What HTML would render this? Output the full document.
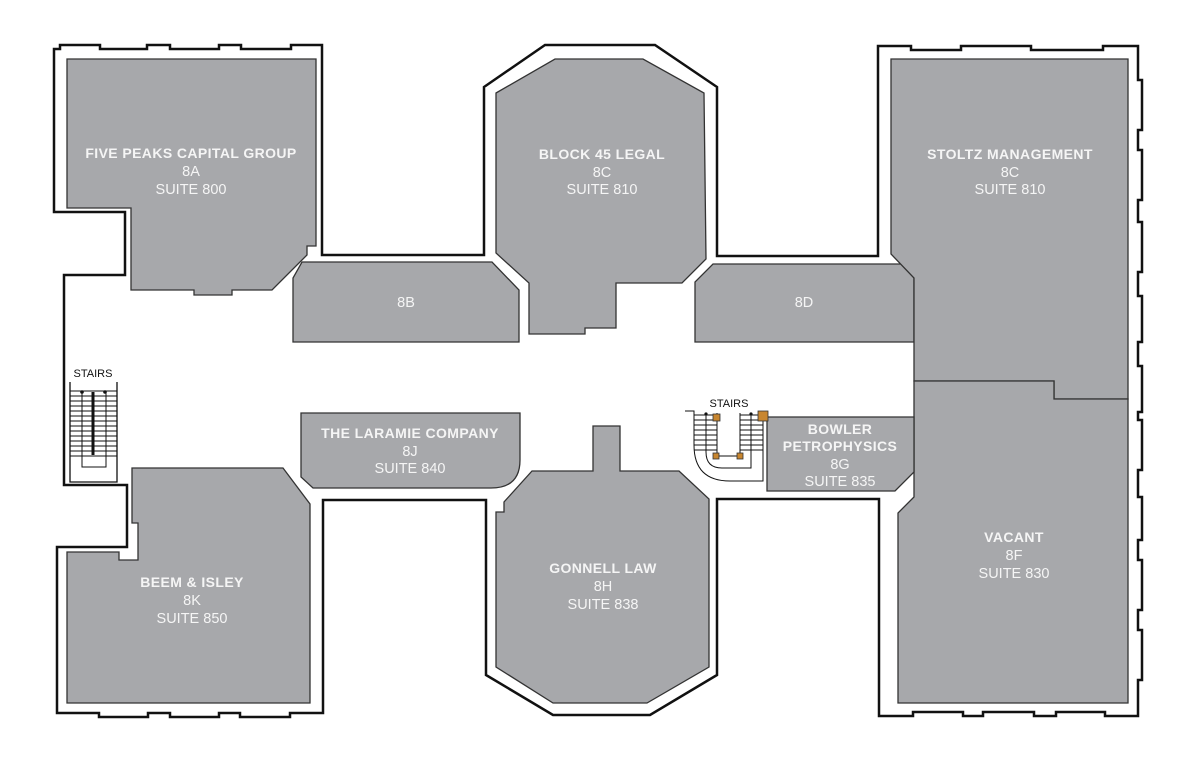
<!DOCTYPE html>
<html><head><meta charset="utf-8"><style>
html,body{margin:0;padding:0;background:#fff;width:1200px;height:762px;overflow:hidden}
svg{display:block}
text{font-family:"Liberation Sans",Arial,sans-serif;fill:#f5f5f5;text-anchor:middle;font-size:14.5px}
.b{font-weight:bold;font-size:14px;letter-spacing:0.4px}
.s{fill:#111;font-size:11px;letter-spacing:0}
</style></head><body>
<svg width="1200" height="762" viewBox="0 0 1200 762">
<path d="M54,49 L60,49 L60,45 L100,45 L100,49 L147,49 L147,45 L170,45 L170,49 L219,49 L219,45 L241,45 L241,49 L291,49 L291,45 L322,45 L322,255 L484,255 L484,87 L545,45 L655,45 L717,87 L717,256 L878,256 L878,46 L911,46 L911,50 L961,50 L961,46 L1031,46 L1031,50 L1103,50 L1103,46 L1138,46 L1138,80 L1142,80 L1142,130 L1138,130 L1138,150 L1142,150 L1142,200 L1138,200 L1138,222 L1142,222 L1142,272 L1138,272 L1138,296 L1142,296 L1142,342 L1138,342 L1138,366 L1142,366 L1142,412 L1138,412 L1138,420 L1142,420 L1142,470 L1138,470 L1138,497 L1142,497 L1142,540 L1138,540 L1138,560 L1142,560 L1142,610 L1138,610 L1138,630 L1142,630 L1142,680 L1138,680 L1138,716 L1105,716 L1105,712 L1056,712 L1056,716 L1034,716 L1034,712 L983,712 L983,716 L963,716 L963,712 L913,712 L913,716 L879,716 L879,499 L717,499 L717,675 L650,715 L553,715 L486,675 L486,500 L323,500 L323,713 L290,713 L290,717 L240,717 L240,713 L219,713 L219,717 L170,717 L170,713 L148,713 L148,717 L99,717 L99,713 L57,713 L57,547 L127,547 L127,485 L64,485 L64,275 L125,275 L125,212 L54,212 Z" fill="none" stroke="#111" stroke-width="2.5" stroke-linejoin="miter"/>
<g fill="#a7a8ab" stroke="#333" stroke-width="1.3">
<path d="M67,59 L316,59 L316,246 L307,246 L307,255 L272,290 L232,290 L232,295 L194,295 L194,290 L131,290 L131,208 L67,208 Z"/>
<path d="M302,262 L492,262 L519,290 L519,342 L293,342 L293,278 Z"/>
<path d="M496,93 L555,59 L643,59 L704,93 L706,259 L682,283 L616,283 L616,328 L585,328 L585,334 L529,334 L529,283 L496,253 Z"/>
<path d="M713,264 L903,264 L914,276 L914,342 L695,342 L695,282 Z"/>
<path d="M891,59 L1128,59 L1128,399 L1054,399 L1054,381 L914,381 L914,278 L891,254 Z"/>
<path d="M914,381 L1054,381 L1054,399 L1128,399 L1128,703 L898,703 L898,513 L914,497 Z"/>
<path d="M767,417 L914,417 L914,472 L895,491 L767,491 Z"/>
<path d="M301,413 L520,413 L520,460 Q520,488 491,488 L313,488 L301,477 Z"/>
<path d="M593,426 L620,426 L620,471 L679,471 L709,499 L709,667 L647,703 L553,703 L496,667 L496,512 L504,512 L504,502 L532,471 L593,471 Z"/>
<path d="M132,468 L283,468 L310,504 L310,703 L67,703 L67,552 L119,552 L119,560 L138,560 L138,523 L132,523 Z"/>
</g>
<g stroke="#111" fill="none" stroke-width="1">
<path d="M70,382 L70,482 L117,482 L117,382" stroke-width="1.3"/>
<path d="M82,392 L82,467 L106,467 L106,392"/>
<g stroke-width="0.9">
<path d="M70,391H117M70,396H117M70,401H117M70,406H117M70,411H117M70,416H117M70,421H117M70,426H117M70,431H117M70,436H117M70,441H117M70,446H117M70,451H117M70,456H117"/>
</g>
<path d="M93,392 L93,455" stroke-width="3"/>
</g>
<circle cx="82" cy="392" r="1.8" fill="#111"/><circle cx="105" cy="392" r="1.8" fill="#111"/>
<text class="s" x="93" y="377">STAIRS</text>
<g stroke="#111" fill="none" stroke-width="1">
<path d="M685,411 L694,411 L694,445 Q694,481 730,481 L763,481 L763,413"/>
<path d="M706,413 L706,452 Q706,468 722,468 L751,468 L751,413"/>
<path d="M694,415H717M694,420H717M694,425H717M694,430H717M694,435H717M694,440H717M694,445H717M694,450H717M740,415H763M740,420H763M740,425H763M740,430H763M740,435H763M740,440H763M740,445H763M740,450H763" stroke-width="0.9"/>
<path d="M717,413 L717,456 L740,456 L740,413"/>
</g>
<circle cx="706" cy="414" r="1.6" fill="#111"/><circle cx="751" cy="414" r="1.6" fill="#111"/>
<g fill="#c8862f" stroke="#333" stroke-width="0.8">
<rect x="713" y="414" width="7" height="7"/>
<rect x="758" y="411" width="10" height="10"/>
<rect x="713" y="453" width="6" height="6"/>
<rect x="737" y="453" width="6" height="6"/>
</g>
<text class="s" x="729" y="407">STAIRS</text>
<text class="b" x="191" y="158">FIVE PEAKS CAPITAL GROUP</text><text x="191" y="176">8A</text><text x="191" y="194">SUITE 800</text>
<text class="b" x="602" y="159">BLOCK 45 LEGAL</text><text x="602" y="177">8C</text><text x="602" y="194">SUITE 810</text>
<text class="b" x="1010" y="159">STOLTZ MANAGEMENT</text><text x="1010" y="177">8C</text><text x="1010" y="194">SUITE 810</text>
<text x="406" y="307">8B</text>
<text x="804" y="307">8D</text>
<text class="b" x="410" y="438">THE LARAMIE COMPANY</text><text x="410" y="456">8J</text><text x="410" y="473">SUITE 840</text>
<text class="b" x="840" y="434">BOWLER</text><text class="b" x="840" y="451">PETROPHYSICS</text><text x="840" y="469">8G</text><text x="840" y="486">SUITE 835</text>
<text class="b" x="603" y="573">GONNELL LAW</text><text x="603" y="591">8H</text><text x="603" y="609">SUITE 838</text>
<text class="b" x="192" y="587">BEEM &amp; ISLEY</text><text x="192" y="605">8K</text><text x="192" y="623">SUITE 850</text>
<text class="b" x="1014" y="542">VACANT</text><text x="1014" y="560">8F</text><text x="1014" y="578">SUITE 830</text>
</svg>
</body></html>
